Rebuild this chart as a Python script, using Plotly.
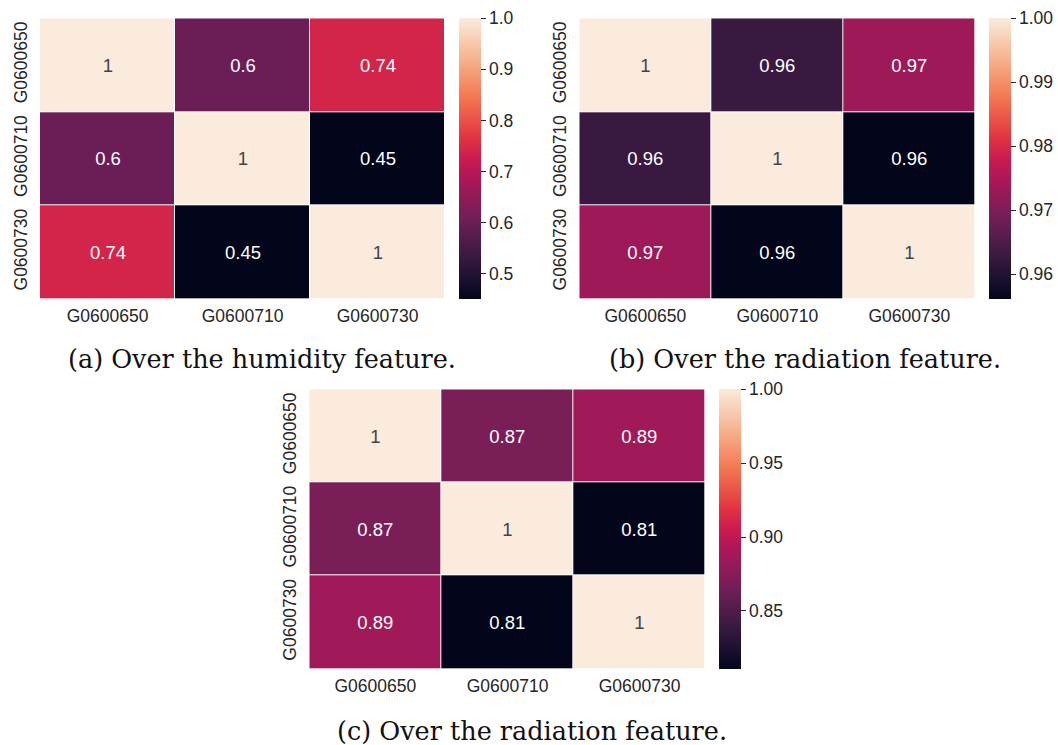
import plotly.graph_objects as go

W, H = 1058, 745

stations = ["G0600650", "G0600710", "G0600730"]

humidity_corr = [
    [1.0, 0.60, 0.74],
    [0.60, 1.0, 0.4497],
    [0.74, 0.4497, 1.0],
]
radiation_corr_b = [
    [1.0, 0.9628, 0.9733],
    [0.9628, 1.0, 0.9561],
    [0.9733, 0.9561, 1.0],
]
radiation_corr_c = [
    [1.0, 0.869, 0.886],
    [0.869, 1.0, 0.8105],
    [0.886, 0.8105, 1.0],
]

cb_ticks_a = [0.5, 0.6, 0.7, 0.8, 0.9, 1.0]
cb_ticks_b = [0.96, 0.97, 0.98, 0.99, 1.00]
cb_ticks_c = [0.85, 0.90, 0.95, 1.00]

captions = ["(a) Over the humidity feature.",
            "(b) Over the radiation feature.",
            "(c) Over the radiation feature."]

rocket = [
    [0.0, "#03051a"],
    [0.07, "#1b1031"],
    [1/7, "#35193e"],
    [2/7, "#701f57"],
    [3/7, "#ad1759"],
    [0.5, "#cb1b4f"],
    [4/7, "#e13342"],
    [5/7, "#f37651"],
    [6/7, "#f6b48f"],
    [1.0, "#faebdd"],
]

TXT = "#262626"
FONT = "Liberation Sans"


def px_x(a, b):
    return [a / W, b / W]


def px_y(top, bottom):
    return [1 - bottom / H, 1 - top / H]


panels = [
    dict(z=humidity_corr, ticks=cb_ticks_a, fmt=".1f", x=(40, 445), y=(18.3, 299), cbx=459.3),
    dict(z=radiation_corr_b, ticks=cb_ticks_b, fmt=".2f", x=(579.3, 975.3), y=(18.3, 299), cbx=989.3),
    dict(z=radiation_corr_c, ticks=cb_ticks_c, fmt=".2f", x=(309.3, 705.7), y=(389.3, 669), cbx=719.3),
]

fig = go.Figure()
layout = dict(
    width=W, height=H, margin=dict(l=0, r=0, t=0, b=0),
    paper_bgcolor="white", plot_bgcolor="white", showlegend=False,
    font=dict(family=FONT, color=TXT, size=17),
)

for i, p in enumerate(panels):
    n = "" if i == 0 else str(i + 1)
    zvals = p["z"]
    zmin = min(min(r) for r in zvals)
    zmax = max(max(r) for r in zvals)
    text = [["%.2g" % v for v in r] for r in zvals]
    fig.add_trace(go.Heatmap(
        z=zvals, x=stations, y=stations,
        colorscale=rocket, zmin=zmin, zmax=zmax,
        xgap=1, ygap=1,
        text=text, texttemplate="%{text}",
        textfont=dict(family=FONT, size=18.5),
        xaxis="x" + n, yaxis="y" + n,
        hoverinfo="skip",
        colorbar=dict(
            x=p["cbx"] / W, xanchor="left", xpad=0, ypad=0,
            y=1 - p["y"][0] / H, yanchor="top", yref="paper",
            len=(p["y"][1] - p["y"][0]) / H, lenmode="fraction",
            thickness=22, outlinewidth=0,
            tickvals=p["ticks"], tickformat=p["fmt"],
            ticks="outside", ticklen=5, tickwidth=1, tickcolor=TXT,
            tickfont=dict(family=FONT, size=17.5, color=TXT),
        ),
    ))
    layout["xaxis" + n] = dict(
        domain=px_x(*p["x"]), anchor="y" + n, showgrid=False, zeroline=False,
        showline=False, ticks="outside", ticklen=1, tickcolor="white",
        tickfont=dict(family=FONT, size=17.5, color=TXT),
        type="category",
    )
    layout["yaxis" + n] = dict(
        domain=px_y(*p["y"]), anchor="x" + n, showgrid=False, zeroline=False,
        showline=False, ticks="outside", ticklen=5, tickcolor="white",
        tickfont=dict(family=FONT, size=17.5, color=TXT),
        tickangle=-90, autorange="reversed", type="category",
    )

cap_pos = [(262, 359), (805, 359), (532, 731)]
annotations = []
for cap, (cx, cy) in zip(captions, cap_pos):
    annotations.append(dict(
        text=cap, x=cx / W, y=1 - cy / H, xref="paper", yref="paper",
        xanchor="center", yanchor="middle", showarrow=False,
        font=dict(family="DejaVu Serif", size=25.5, color="#111111"),
    ))
layout["annotations"] = annotations
fig.update_layout(**layout)

fig.write_html(
    "out.html",
    config={"displayModeBar": False},
    post_script="document.body.style.margin='0';document.body.style.overflow='hidden';",
)
